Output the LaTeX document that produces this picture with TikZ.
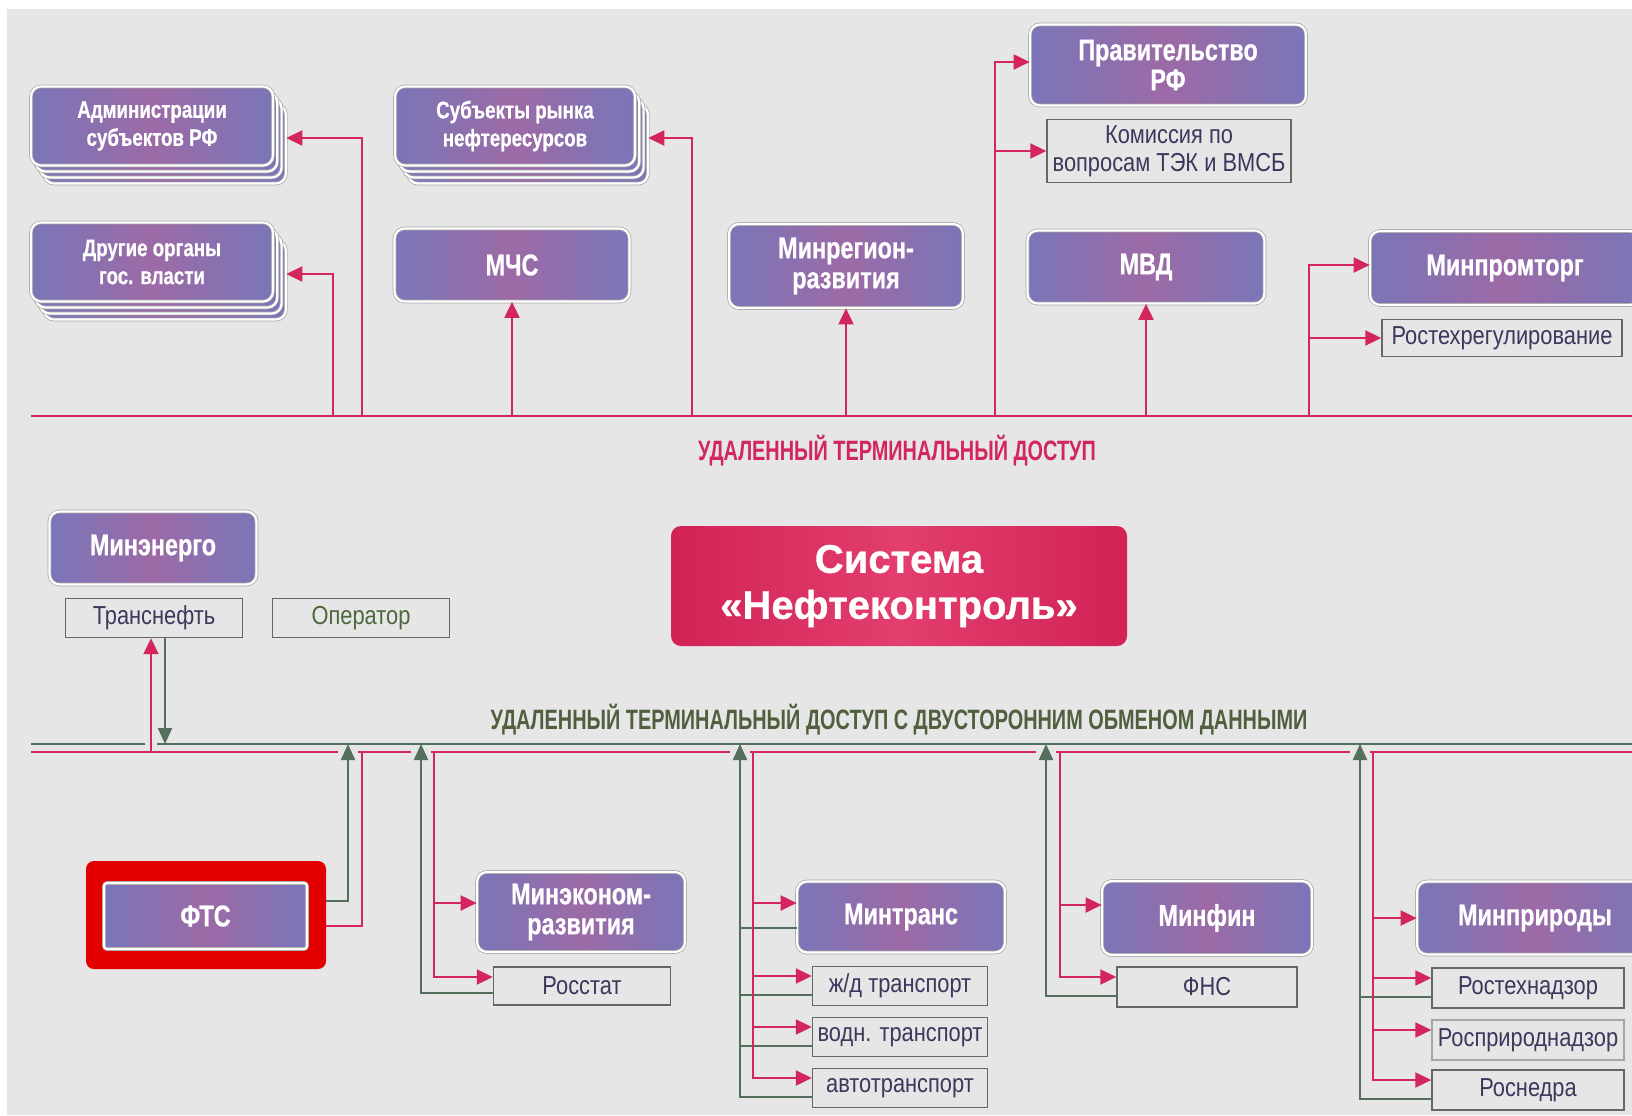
\documentclass[tikz,border=0pt]{standalone}
\usepackage{fontspec}
\setmainfont{Liberation Sans}
\newfontfamily\blockfont{Liberation Sans}[FakeStretch=0.78, BoldFeatures={FakeBold=0.6}]
\newfontfamily\subfont{Liberation Sans}[FakeStretch=0.84]
\newfontfamily\busfont{Liberation Sans}[FakeStretch=0.71]
\newfontfamily\corefont{Liberation Sans}[BoldFeatures={FakeBold=0.8}]
\usetikzlibrary{arrows.meta}

\definecolor{bggray}{RGB}{230,230,230}
\definecolor{netred}{RGB}{210,38,92}
\definecolor{netgreen}{RGB}{84,112,92}
\definecolor{boxblue}{RGB}{122,118,184}
\definecolor{boxpink}{RGB}{156,106,166}
\definecolor{corered}{RGB}{210,34,86}
\definecolor{corepink}{RGB}{226,62,110}
\definecolor{subtext}{RGB}{58,56,92}
\definecolor{optext}{RGB}{76,104,60}
\definecolor{labgreen}{RGB}{80,96,62}
\definecolor{ftsred}{RGB}{226,0,0}

\begin{document}
\begin{tikzpicture}[x=0.5pt, y=-0.5pt]

    \tikzstyle{block} = [rectangle, rounded corners=5pt, draw=gray!70, line width=0.35pt, double=white, double distance=1.1pt, left color=boxblue, right color=boxblue, middle color=boxpink, text=white, align=center, inner sep=0pt, font=\blockfont\bfseries\fontsize{15}{15}\selectfont]
    \tikzstyle{smallblock} = [block, font=\blockfont\bfseries\fontsize{12}{14}\selectfont]
    \tikzstyle{subblock} = [rectangle, draw=black!60, line width=0.7pt, fill=bggray, text=subtext, align=center, inner sep=0pt, font=\subfont\fontsize{13}{14}\selectfont]
    \tikzstyle{core} = [rectangle, rounded corners=5pt, left color=corered, right color=corered, middle color=corepink, text=white, align=center, font=\corefont\bfseries\fontsize{20}{23}\selectfont]
    \tikzstyle{buslabel} = [font=\busfont\bfseries\fontsize{14}{16}\selectfont]
    \tikzstyle{busgap} = [rectangle, fill=bggray, inner sep=0pt, minimum width=10pt, minimum height=2.5pt]
    \tikzstyle{redline} = [draw=netred, line width=1pt]
    \tikzstyle{redarrow} = [redline, -{Triangle[length=8pt,width=7.5pt]}]
    \tikzstyle{greenline} = [draw=netgreen, line width=1pt]
    \tikzstyle{greenarrow} = [greenline, -{Triangle[length=8pt,width=7pt]}]

    \useasboundingbox (0,0) rectangle (1632,1115);
    \fill[white] (0,0) rectangle (1632,1115);
    \fill[bggray] (7,9) rectangle (1632,1115);

    \coordinate (tbusL) at (31,416);
    \coordinate (tbusR) at (1632,416);
    \coordinate (gbusL) at (31,744);
    \coordinate (gbusR) at (1632,744);
    \coordinate (rbusL) at (31,752);
    \coordinate (rbusR) at (1632,752);

    \draw[redline] (tbusL) -- (tbusR);
    \draw[greenline] (gbusL) -- (gbusR);
    \draw[redline] (rbusL) -- (rbusR);

    \foreach \s in {3,2,1} {
        \node[smallblock, minimum width=121pt, minimum height=39.5pt, xshift=\s*2.15pt, yshift=-\s*3pt] (adm\s) at (152,126) {};
        \node[smallblock, minimum width=121pt, minimum height=39.5pt, xshift=\s*2.15pt, yshift=-\s*3pt] (org\s) at (152,262) {};
        \node[smallblock, minimum width=120pt, minimum height=39.5pt, xshift=\s*2.15pt, yshift=-\s*3pt] (subj\s) at (515,126) {};
    }
    \node[smallblock, minimum width=121pt, minimum height=39.5pt] (adm) at (152,126) {Администрации\\субъектов РФ};
    \node[smallblock, minimum width=121pt, minimum height=39.5pt] (org) at (152,262) {Другие органы\\гос. власти};
    \node[smallblock, minimum width=120pt, minimum height=39.5pt] (subj) at (515,126) {Субъекты рынка\\нефтересурсов};
    \node[block, minimum width=117.5pt, minimum height=36.5pt] (mchs) at (512,265) {МЧС};
    \node[block, minimum width=117pt, minimum height=42pt] (minreg) at (846,266) {Минрегион-\\развития};
    \node[block, minimum width=138pt, minimum height=40.5pt] (prav) at (1168,65) {Правительство\\РФ};
    \node[subblock, minimum width=122pt, minimum height=31.5pt] (komis) at (1169,151) {Комиссия по\\вопросам ТЭК и ВМСБ};
    \node[block, minimum width=118.5pt, minimum height=36.5pt] (mvd) at (1146,267) {МВД};
    \node[block, minimum width=135pt, minimum height=37pt] (minprom) at (1505,268) {Минпромторг};
    \node[subblock, minimum width=120pt, minimum height=18.5pt] (rostreg) at (1502,338) {Ростехрегулирование};

    \coordinate (t1) at (362,416);
    \coordinate (t2) at (333,416);
    \coordinate (t4) at (692,416);
    \coordinate (t6) at (995,416);
    \coordinate (t8) at (1309,416);

    \draw[redarrow] (t1) |- (adm3.east |- adm2.east);
    \draw[redarrow] (t2) |- (org3.east |- org2.east);
    \draw[redarrow] (mchs.south |- tbusL) -- (mchs.south);
    \draw[redarrow] (t4) |- (subj3.east |- subj2.east);
    \draw[redarrow] (minreg.south |- tbusL) -- (minreg.south);
    \draw[redarrow] (t6) |- ([yshift=1.5pt]prav.west);
    \draw[redarrow] (t6) |- (komis.west);
    \draw[redarrow] (mvd.south |- tbusL) -- (mvd.south);
    \draw[redarrow] (t8) |- ([yshift=1.5pt]minprom.west);
    \draw[redarrow] (t8) |- (rostreg.west);

    \node[buslabel, text=netred] (lab1) at (897,451) {УДАЛЕННЫЙ ТЕРМИНАЛЬНЫЙ ДОСТУП};

    \node[block, minimum width=103.5pt, minimum height=36.5pt] (minen) at (153,548) {Минэнерго};
    \node[subblock, minimum width=88.5pt, minimum height=19.5pt] (transneft) at (154,618) {Транснефть};
    \node[subblock, minimum width=88.5pt, minimum height=19.5pt, text=optext] (oper) at (361,618) {Оператор};
    \node[core, minimum width=228pt, minimum height=60pt] (neft) at (899,586) {Система\\«Нефтеконтроль»};

    \node[buslabel, text=labgreen] (lab2) at (899,720) {УДАЛЕННЫЙ ТЕРМИНАЛЬНЫЙ ДОСТУП С ДВУСТОРОННИМ ОБМЕНОМ ДАННЫМИ};

    \node[rectangle, rounded corners=4pt, fill=ftsred, minimum width=120pt, minimum height=54pt] (ftsframe) at (206,915) {};
    \node[block, rounded corners=1.5pt, minimum width=101.5pt, minimum height=33pt] (fts) at (205.5,916) {ФТС};
    \node[block, minimum width=104pt, minimum height=40pt] (mek) at (581,912) {Минэконом-\\развития};
    \node[subblock, minimum width=88.5pt, minimum height=19pt] (rosstat) at (582,986) {Росстат};
    \node[block, minimum width=104pt, minimum height=35.5pt] (mintrans) at (901,917) {Минтранс};
    \node[subblock, minimum width=87.5pt, minimum height=19.5pt] (zd) at (900,986) {ж/д транспорт};
    \node[subblock, minimum width=87.5pt, minimum height=19.5pt] (vodn) at (900,1037) {водн. транспорт};
    \node[subblock, minimum width=87.5pt, minimum height=19.5pt] (avto) at (900,1088) {автотранспорт};
    \node[block, minimum width=105pt, minimum height=37pt] (minfin) at (1207,918) {Минфин};
    \node[subblock, minimum width=90pt, minimum height=20pt] (fns) at (1207,987) {ФНС};
    \node[block, minimum width=118pt, minimum height=36.5pt] (minprir) at (1535,918) {Минприроды};
    \node[subblock, minimum width=96pt, minimum height=20pt] (rostn) at (1528,988) {Ростехнадзор};
    \node[subblock, minimum width=96pt, minimum height=20pt, draw=black!35] (rospr) at (1528,1040) {Росприроднадзор};
    \node[subblock, minimum width=96pt, minimum height=20pt] (nedra) at (1528,1090) {Роснедра};

    \coordinate (b0r) at (151,752);
    \coordinate (b0g) at (165,744);
    \coordinate (b1g) at (348,744);
    \coordinate (b1r) at (362,752);
    \coordinate (b2g) at (421,744);
    \coordinate (b2r) at (434,752);
    \coordinate (b3g) at (740,744);
    \coordinate (b3r) at (753,752);
    \coordinate (b4g) at (1046,744);
    \coordinate (b4r) at (1060,752);
    \coordinate (b5g) at (1360,744);
    \coordinate (b5r) at (1373,752);

    \node[busgap, minimum width=6pt] (gap0) at (b0r |- gbusL) {};
    \foreach \g in {b1g,b2g,b3g,b4g,b5g}
        \node[busgap] at (\g |- rbusL) {};

    \draw[redarrow] (b0r) -- (b0r |- transneft.south);
    \draw[greenarrow] (b0g |- transneft.south) -- (b0g);

    \draw[greenarrow] ([yshift=7pt]ftsframe.east) -| (b1g);
    \draw[redline] (b1r) |- ([yshift=-5.5pt]ftsframe.east);

    \draw[greenarrow] ([yshift=-3.5pt]rosstat.west) -| (b2g);
    \draw[redarrow] (b2r) |- ([yshift=4.5pt]mek.west);
    \draw[redarrow] (b2r) |- ([yshift=4.5pt]rosstat.west);

    \draw[greenline] ([yshift=-5.5pt]mintrans.west) -| (b3g);
    \draw[greenline] ([yshift=-4.5pt]zd.west) -| (b3g);
    \draw[greenline] ([yshift=-4.5pt]vodn.west) -| (b3g);
    \draw[greenarrow] ([yshift=-4.5pt]avto.west) -| (b3g);
    \draw[redarrow] (b3r) |- ([yshift=7pt]mintrans.west);
    \foreach \n in {zd,vodn,avto}
        \draw[redarrow] (b3r) |- ([yshift=5pt]\n.west);

    \draw[greenarrow] ([yshift=-4.5pt]fns.west) -| (b4g);
    \draw[redarrow] (b4r) |- ([yshift=6.5pt]minfin.west);
    \draw[redarrow] (b4r) |- ([yshift=5pt]fns.west);

    \draw[greenline] ([yshift=-4.5pt]rostn.west) -| (b5g);
    \draw[greenarrow] ([yshift=-4.5pt]nedra.west) -| (b5g);
    \draw[redarrow] (b5r) |- (minprir.west);
    \foreach \n in {rostn,rospr,nedra}
        \draw[redarrow] (b5r) |- ([yshift=5pt]\n.west);

\end{tikzpicture}
\end{document}
